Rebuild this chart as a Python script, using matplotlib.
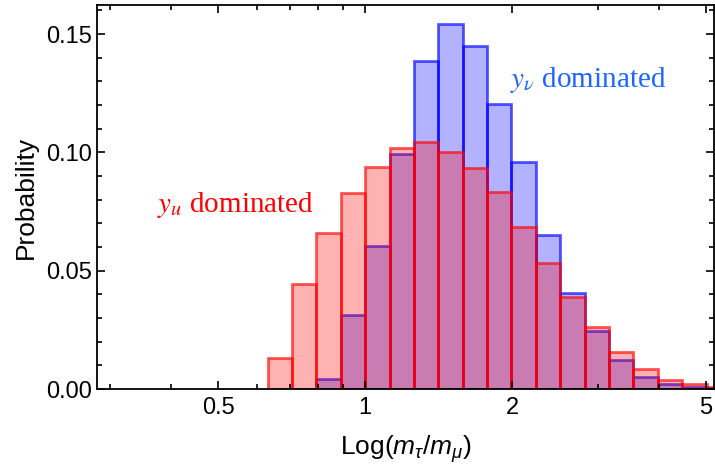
import numpy as np
import matplotlib.pyplot as plt
from matplotlib.ticker import LogLocator, FixedLocator, MultipleLocator, NullFormatter

plt.rcParams['font.family'] = ['Liberation Sans', 'DejaVu Sans']
plt.rcParams['mathtext.fontset'] = 'custom'
plt.rcParams['mathtext.rm'] = 'Liberation Sans'
plt.rcParams['mathtext.it'] = 'Liberation Sans:italic'

# bins are 0.05 wide in log10(m_tau/m_mu)
bin_width = 0.05
red_start = -0.20
red_probs = [0.013, 0.0444, 0.066, 0.083, 0.094, 0.102, 0.1045, 0.1003, 0.0932,
             0.0831, 0.0683, 0.0534, 0.039, 0.026, 0.0155, 0.0083, 0.0038,
             0.0021, 0.001]
blue_start = -0.10
blue_probs = [0.0042, 0.0313, 0.0604, 0.0993, 0.1387, 0.1541, 0.1449, 0.1203,
              0.096, 0.0651, 0.0407, 0.0245, 0.0123, 0.0052, 0.002, 0.001,
              0.0005]


def bars(ax, start, probs, face, edge):
    lo = start + bin_width * np.arange(len(probs))
    left = 10 ** lo
    width = 10 ** (lo + bin_width) - left
    ax.bar(left, probs, width=width, align='edge', color=face,
           edgecolor=edge, linewidth=2.0)


fig = plt.figure(figsize=(7.15, 4.68), dpi=100)
ax = fig.add_axes([97 / 715, 79 / 468, 617 / 715, 384 / 468])

bars(ax, blue_start, blue_probs, (0, 0, 1, 0.3), (0, 0, 1, 0.65))
bars(ax, red_start, red_probs, (1, 0, 0, 0.3), (1, 0, 0, 0.65))

ax.set_xscale('log')
ax.set_xlim(0.282, 5.19)
ax.set_ylim(0, 0.1623)

ax.xaxis.set_major_locator(FixedLocator([0.5, 1, 2, 5]))
ax.set_xticklabels(['0.5', '1', '2', '5'])
ax.xaxis.set_minor_locator(LogLocator(subs=np.arange(2, 10)))
ax.xaxis.set_minor_formatter(NullFormatter())
ax.set_yticks([0, 0.05, 0.10, 0.15])
ax.set_yticklabels(['0.00', '0.05', '0.10', '0.15'])
ax.yaxis.set_minor_locator(MultipleLocator(0.01))

ax.tick_params(which='both', direction='in', top=True, right=True,
               labelsize=17, width=1.2)
ax.tick_params(which='major', length=6)
ax.tick_params(which='minor', length=3.5)
ax.tick_params(axis='x', which='major', pad=6)
for s in ax.spines.values():
    s.set_linewidth(1.3)

ax.set_ylabel('Probability', fontsize=19, labelpad=6)
ax.set_xlabel(r'Log($m_\tau/m_\mu$)', fontsize=19, labelpad=10)

ax.text(0.3735, 0.0777, r'$y_u$ dominated', color='red', fontsize=21,
        family='Liberation Serif', math_fontfamily='stix', va='center')
ax.text(1.98, 0.1306, r'$y_\nu$ dominated', color=(0.1, 0.4, 1.0), fontsize=21,
        family='Liberation Serif', math_fontfamily='stix', va='center')

fig.savefig('out.png', dpi=100)
